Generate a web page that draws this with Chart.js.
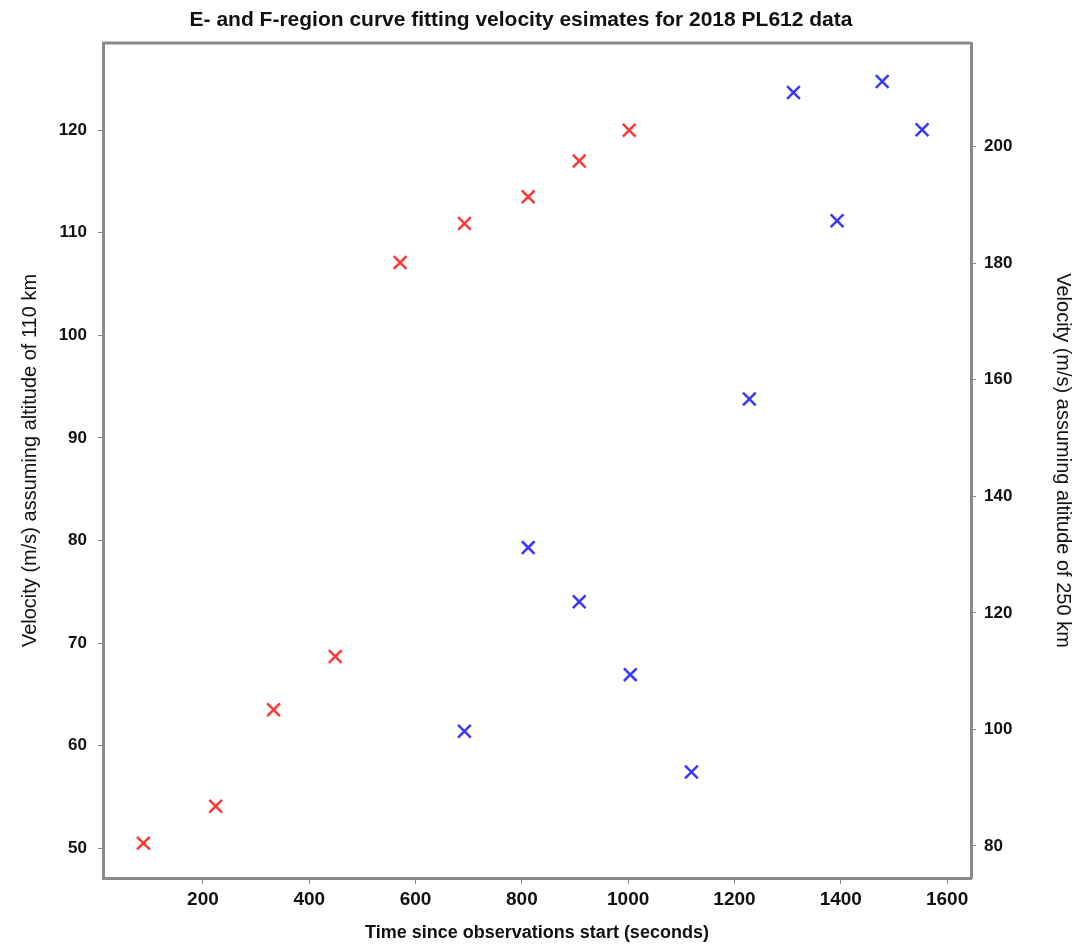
<!DOCTYPE html>
<html>
<head>
<meta charset="utf-8">
<script src="https://cdn.jsdelivr.net/npm/chart.js@4.4.1/dist/chart.umd.min.js"></script>
<style>
  html, body { margin: 0; padding: 0; background: #fff; }
  #wrap { width: 1087px; height: 945px; }
</style>
</head>
<body>
<div id="wrap"><canvas id="chart" width="1087" height="945"></canvas></div>
<script>
// values
const eTimes = [88, 224, 333, 449, 571, 692, 812, 908, 1002];
const eVelocity = [50.5, 54.1, 63.5, 68.7, 107.1, 110.9, 113.5, 117.0, 120.0];
const fTimes = [692, 812, 908, 1004, 1119, 1228, 1311, 1393, 1478, 1553];
const fVelocity = [99.7, 131.2, 121.9, 109.4, 92.7, 156.7, 209.3, 187.3, 211.2, 202.9];

const xTicks = [200, 400, 600, 800, 1000, 1200, 1400, 1600];
const leftTicks = [50, 60, 70, 80, 90, 100, 110, 120];
const rightTicks = [80, 100, 120, 140, 160, 180, 200];

const titleText = "E- and F-region curve fitting velocity esimates for 2018 PL612 data";

const FONT = "'Liberation Sans', Arial, sans-serif";
const AXIS_GREY = "#8a8a8a";

function toPoints(xs, ys) {
  return xs.map((x, i) => ({ x: x, y: ys[i] }));
}

function fixTicks(values) {
  return function (scale) {
    scale.ticks = values.map(v => ({ value: v }));
  };
}

// title and the top edge of the frame round the plot area
const framePlugin = {
  id: "frame",
  afterDraw(chart) {
    const ctx = chart.ctx;
    const a = chart.chartArea;
    ctx.save();
    ctx.strokeStyle = AXIS_GREY;
    ctx.lineWidth = 3;
    ctx.beginPath();
    ctx.moveTo(a.left, a.top);
    ctx.lineTo(a.right, a.top);
    ctx.stroke();

    ctx.fillStyle = "#111";
    ctx.textBaseline = "middle";
    ctx.textAlign = "center";
    ctx.font = "bold 21px " + FONT;
    ctx.fillText(titleText, 521, 20);
    ctx.restore();
  }
};

const ctx = document.getElementById("chart").getContext("2d");
new Chart(ctx, {
  type: "scatter",
  data: {
    datasets: [
      {
        label: "E-region",
        data: toPoints(eTimes, eVelocity),
        yAxisID: "y",
        pointStyle: "crossRot",
        pointRadius: 9,
        borderWidth: 2.5,
        borderColor: "rgba(255, 20, 20, 0.85)",
        backgroundColor: "rgba(255, 20, 20, 0.85)"
      },
      {
        label: "F-region",
        data: toPoints(fTimes, fVelocity),
        yAxisID: "y1",
        pointStyle: "crossRot",
        pointRadius: 9,
        borderWidth: 2.5,
        borderColor: "rgba(20, 20, 255, 0.85)",
        backgroundColor: "rgba(20, 20, 255, 0.85)"
      }
    ]
  },
  options: {
    responsive: false,
    animation: false,
    layout: { padding: { top: 43, left: 0, right: 0, bottom: 0 } },
    plugins: {
      legend: { display: false },
      tooltip: { enabled: false }
    },
    scales: {
      x: {
        type: "linear",
        min: 12,
        max: 1645,
        afterBuildTicks: fixTicks(xTicks),
        afterFit(scale) { scale.height = 67; },
        border: { display: true, color: AXIS_GREY, width: 3 },
        grid: { drawOnChartArea: false, drawTicks: true, tickLength: 6, color: AXIS_GREY },
        ticks: {
          color: "#111",
          padding: 4,
          font: { family: FONT, size: 19, weight: "bold" },
          callback: v => String(v)
        },
        title: {
          display: true,
          text: "Time since observations start (seconds)",
          color: "#111",
          padding: { top: 0, bottom: 1 },
          font: { family: FONT, size: 18, weight: "bold" }
        }
      },
      y: {
        type: "linear",
        position: "left",
        min: 47.1,
        max: 128.5,
        afterBuildTicks: fixTicks(leftTicks),
        afterFit(scale) { scale.width = 103; },
        border: { display: true, color: AXIS_GREY, width: 3 },
        grid: { drawOnChartArea: false, drawTicks: true, tickLength: 5, color: AXIS_GREY },
        ticks: { color: "#111", padding: 11, font: { family: FONT, size: 17, weight: "bold" } },
        title: {
          display: true,
          text: "Velocity (m/s) assuming altitude of 110 km",
          color: "#111",
          padding: { top: 18, bottom: 0 },
          font: { family: FONT, size: 20 }
        }
      },
      y1: {
        type: "linear",
        position: "right",
        min: 74.5,
        max: 217.8,
        afterBuildTicks: fixTicks(rightTicks),
        afterFit(scale) { scale.width = 116; },
        border: { display: true, color: AXIS_GREY, width: 3 },
        grid: { drawOnChartArea: false, drawTicks: true, tickLength: 5, color: AXIS_GREY },
        ticks: { color: "#111", padding: 8, font: { family: FONT, size: 17, weight: "bold" } },
        title: {
          display: true,
          text: "Velocity (m/s) assuming altitude of 250 km",
          color: "#111",
          padding: { top: 12, bottom: 0 },
          font: { family: FONT, size: 20 }
        }
      }
    }
  },
  plugins: [framePlugin]
});
</script>
</body>
</html>
